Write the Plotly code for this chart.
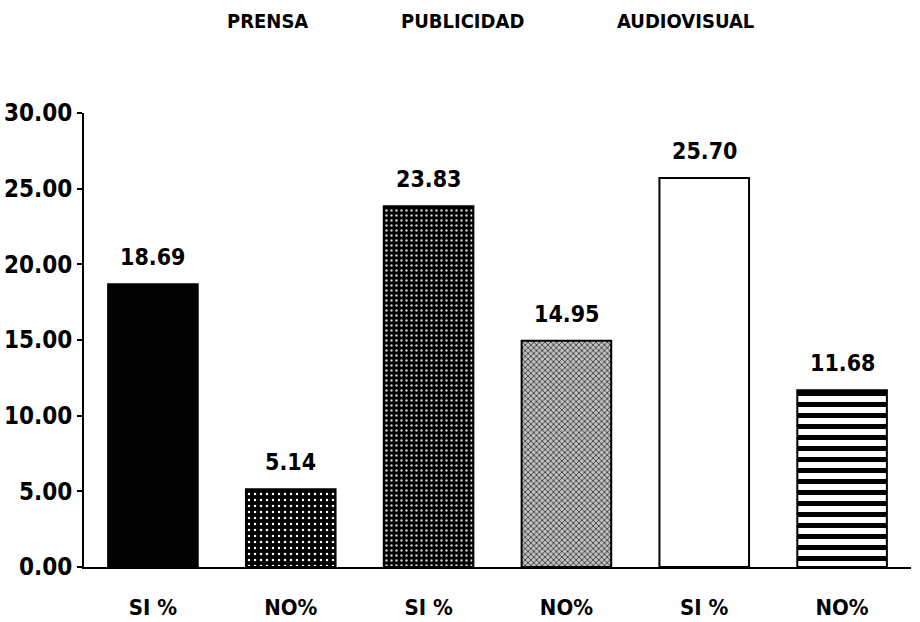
import plotly.graph_objects as go

categories = ["SI %", "NO%", "SI %", "NO%", "SI %", "NO%"]
values = [18.69, 5.14, 23.83, 14.95, 25.70, 11.68]
value_labels = ["18.69", "5.14", "23.83", "14.95", "25.70", "11.68"]
groups = ["PRENSA", "PUBLICIDAD", "AUDIOVISUAL"]
y_ticks = [0, 5, 10, 15, 20, 25, 30]
y_tick_labels = ["0.00", "5.00", "10.00", "15.00", "20.00", "25.00", "30.00"]

FONT = "DejaVu Sans Condensed, Liberation Sans, Arial, sans-serif"

styles = [
    dict(color="black", pattern=dict(shape="")),
    dict(color="black", pattern=dict(shape=".", fgcolor="white", bgcolor="black", size=6, solidity=0.14, fillmode="replace", fgopacity=1)),
    dict(color="black", pattern=dict(shape=".", fgcolor="#d0d0d0", bgcolor="black", size=5, solidity=0.18, fillmode="replace", fgopacity=1)),
    dict(color="#999999", pattern=dict(shape="x", fgcolor="#333333", bgcolor="#c0c0c0", size=4, solidity=0.38, fillmode="replace", fgopacity=1)),
    dict(color="white", pattern=dict(shape="")),
    dict(color="white", pattern=dict(shape="-", fgcolor="black", bgcolor="white", size=11, solidity=0.45, fillmode="replace", fgopacity=1)),
]

fig = go.Figure()
xs = list(range(len(categories)))
for i in xs:
    st = styles[i]
    fig.add_trace(go.Bar(
        x=[i], y=[values[i]], width=0.65,
        marker=dict(color=st["color"], pattern=st["pattern"], line=dict(color="black", width=2)),
        showlegend=False, hoverinfo="skip",
    ))
    fig.add_annotation(x=i, y=values[i], text=value_labels[i], showarrow=False,
                       yanchor="bottom", yshift=12,
                       font=dict(family=FONT, size=23, color="black", weight="bold"))

# header centres (screen px)
group_x = [267, 462, 685]
for g, gx in zip(groups, group_x):
    fig.add_annotation(xref="paper", yref="paper", x=(gx - 84) / 827, y=1 + (113 - 21) / 454,
                       text=g, showarrow=False, xanchor="center", yanchor="middle",
                       font=dict(family=FONT, size=20, color="black", weight="bold"))

fig.update_layout(
    width=920, height=622,
    margin=dict(l=84, r=9, t=113, b=55, autoexpand=False),
    paper_bgcolor="white", plot_bgcolor="white",
    bargap=0.35,
)
fig.update_xaxes(
    range=[-0.5, 5.5], tickmode="array", tickvals=xs, ticktext=categories,
    showline=True, linecolor="black", linewidth=2, ticks="", showgrid=False,
    ticklabelstandoff=20, automargin=False,
    tickfont=dict(family=FONT, size=22, color="black", weight="bold"),
)
fig.update_yaxes(
    range=[0, 30], tickmode="array", tickvals=y_ticks, ticktext=y_tick_labels,
    showline=True, linecolor="black", linewidth=2, ticks="outside", ticklen=5,
    tickwidth=2, tickcolor="black", showgrid=False, zeroline=False, automargin=False,
    tickfont=dict(family=FONT, size=24, color="black", weight="bold"),
)

fig.write_html(
    "out.html",
    config={"displayModeBar": False},
    post_script="document.body.style.margin='0';document.body.style.overflow='hidden';",
)
